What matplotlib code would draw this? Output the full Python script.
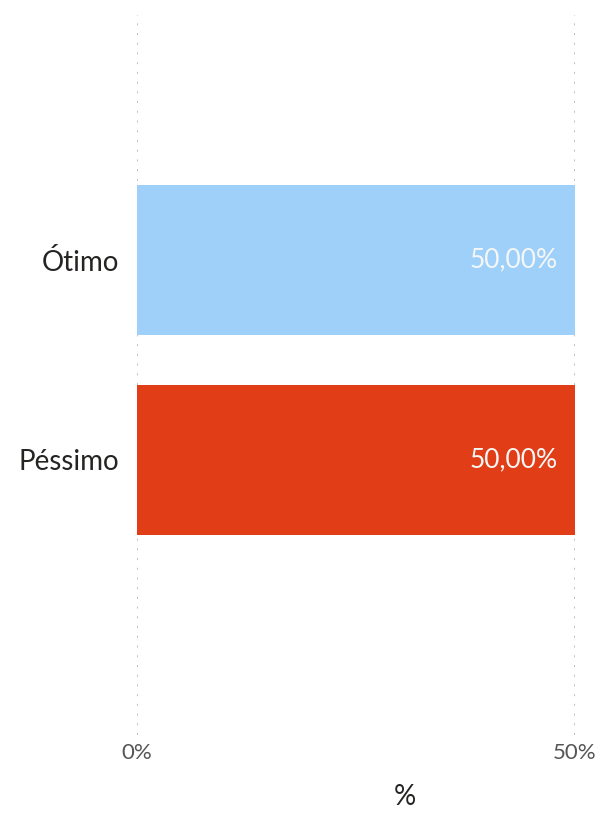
import matplotlib.pyplot as plt
import numpy as np

# data
categorias = ['Ótimo', 'Péssimo']
valores = [50.0, 50.0]
cores = ['#9FD0FA', '#E13D16']
xticks_vals = [0, 50]
xticks_labels = ['0%', '50%']

plt.rcParams['font.family'] = ['Lato', 'DejaVu Sans']

fig = plt.figure(figsize=(6.03, 8.18), dpi=100)
ax = fig.add_axes([137/603, 1 - 735/818, (575-137)/603, (735-15)/818])

y = np.arange(len(categorias))
ax.barh(y, valores, height=0.75, color=cores, zorder=2)

for yi, v in zip(y, valores):
    ax.text(v - 2.0, yi, ('%.2f%%' % v).replace('.', ','), ha='right', va='center',
            color='#F4F7F5', fontsize=19, zorder=3)

ax.set_xlim(0, 50)
ax.set_ylim(2.375, -1.225)
ax.set_yticks(y)
ax.set_yticklabels(categorias, fontsize=20, color='#252423')
ax.set_xticks(xticks_vals)
ax.set_xticklabels(xticks_labels, fontsize=16, color='#555555')
ax.tick_params(axis='x', length=0, pad=6)
ax.tick_params(axis='y', length=0, pad=13)

for s in ax.spines.values():
    s.set_visible(False)

ax.grid(axis='x', color='#C0BEBC', linestyle=(0, (1, 4)), linewidth=1.4, zorder=0)
ax.grid(axis='y', visible=False)

# titulo do eixo x
fig.text(405/603, 1 - 797/818, '%', fontsize=20, color='#252423', ha='center', va='center')

fig.savefig('out.png', dpi=100, facecolor='white')
